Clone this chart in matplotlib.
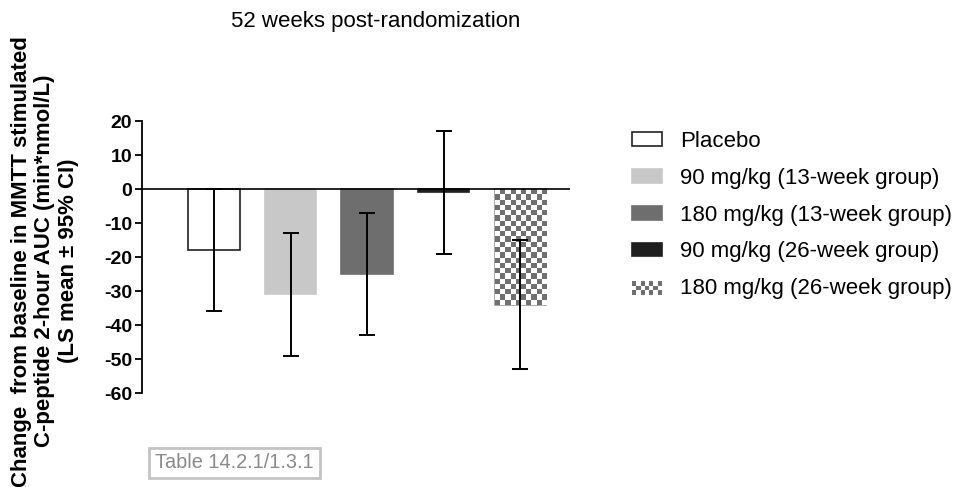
import numpy as np
import matplotlib
matplotlib.use("Agg")
import matplotlib.pyplot as plt
from matplotlib.patches import Rectangle
from matplotlib.legend_handler import HandlerBase

plt.rcParams["font.family"] = ["Liberation Sans", "DejaVu Sans"]
plt.rcParams["axes.unicode_minus"] = False

groups = ["Placebo", "90 mg/kg (13-week group)", "180 mg/kg (13-week group)",
          "90 mg/kg (26-week group)", "180 mg/kg (26-week group)"]
ls_mean = [-18, -31, -25, -1, -34]
ci_low = [-36, -49, -43, -19, -53]
ci_high = [0, -13, -7, 17, -15]
yticks = [20, 10, 0, -10, -20, -30, -40, -50, -60]

colors = ["white", "#c8c8c8", "#6e6e6e", "#1f1f1f", "white"]
edges = ["#222222", "#c8c8c8", "#6e6e6e", "#1f1f1f", "#999999"]
CHECK = "#707070"


def checker(nr, nc):
    return (np.indices((nr, nc)).sum(axis=0) % 2).astype(float)


class CheckerHandler(HandlerBase):
    def create_artists(self, legend, orig, x0, y0, w, h, fontsize, trans):
        nc, nr = 7, 3
        cw, ch = w / nc, h / nr
        arts = [Rectangle((x0, y0), w, h, facecolor="white", edgecolor="none",
                          transform=trans)]
        for r in range(nr):
            for c in range(nc):
                if (r + c) % 2 == 0:
                    arts.append(Rectangle((x0 + c * cw, y0 + r * ch), cw, ch,
                                          facecolor=CHECK, edgecolor="none",
                                          transform=trans))
        return arts


fig = plt.figure(figsize=(9.58, 4.87), dpi=100)
ax = fig.add_axes([142 / 958, 1 - 393 / 487, (570 - 142) / 958, (393 - 121) / 487])

x = np.arange(len(groups))
bars = ax.bar(x, ls_mean, width=0.67, color=colors, edgecolor=edges,
              linewidth=1.2, zorder=2)
ax.set_xlim(-0.94, 4.65)
ax.set_ylim(-60, 20)

# checkerboard fill for the last bar
b = bars[4]
bb = b.get_window_extent()
nr = max(1, int(round(bb.height / 5.2)))
nc = max(1, int(round(bb.width / 5.2)))
img = ax.imshow(checker(nr, nc), cmap=matplotlib.colors.ListedColormap(["white", CHECK]),
                extent=(b.get_x(), b.get_x() + b.get_width(), b.get_y() + b.get_height(), b.get_y()),
                aspect="auto", interpolation="nearest", zorder=2.5)
img.set_clip_path(b)
ax.set_xlim(-0.94, 4.65)
ax.set_ylim(-60, 20)

err = [np.array(ls_mean) - np.array(ci_low), np.array(ci_high) - np.array(ls_mean)]
ax.errorbar(x, ls_mean, yerr=err, fmt="none", ecolor="black", elinewidth=1.4,
            capsize=6, capthick=1.4, zorder=4)

ax.axhline(0, color="black", linewidth=1.2, zorder=3)

for s in ["top", "right", "bottom"]:
    ax.spines[s].set_visible(False)
ax.spines["left"].set_linewidth(1.3)
ax.spines["left"].set_bounds(-60, 20)
ax.set_xticks([])
ax.set_yticks(yticks)
ax.tick_params(axis="y", direction="out", length=5, width=1.3, labelsize=14, pad=2)
for t in ax.get_yticklabels():
    t.set_fontweight("bold")

ax.set_ylabel("Change  from baseline in MMTT stimulated\nC-peptide 2-hour AUC (min*nmol/L)\n(LS mean \u00b1 95% CI)",
              fontsize=16, fontweight="bold", linespacing=1.15)
ax.yaxis.set_label_coords(-0.148, 0.485)

fig.text(376 / 958, 1 - 22 / 487, "52 weeks post-randomization", ha="center",
         va="center", fontsize=16)

handles = [Rectangle((0, 0), 1, 1, facecolor=c, edgecolor=e, linewidth=1.2)
           for c, e in zip(colors, edges)]
handles[4] = Rectangle((0, 0), 1, 1)
leg = fig.legend(handles, groups, loc="upper left", bbox_to_anchor=(632 / 958, 1 - 131 / 487),
                 frameon=False, fontsize=16, handlelength=1.35, handleheight=0.58,
                 handletextpad=0.8, labelspacing=0.71, borderpad=0, borderaxespad=0,
                 handler_map={handles[4]: CheckerHandler()})

fig.text(155 / 958, 1 - 463 / 487, "Table 14.2.1/1.3.1", ha="left", va="center",
         fontsize=14.3, color="#8a8a8a",
         bbox=dict(boxstyle="square,pad=0.3", facecolor="white", edgecolor="#c4c4c4",
                   linewidth=2))

fig.savefig("out.png", dpi=100)
